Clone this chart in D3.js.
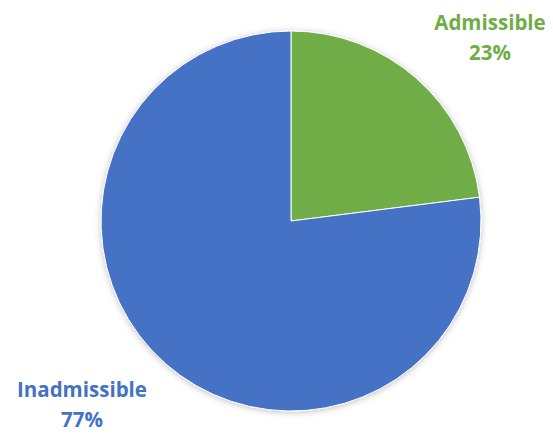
<!DOCTYPE html>
<html>
<head>
<meta charset="utf-8">
<script src="https://cdn.jsdelivr.net/npm/d3@7"></script>
<style>
  body { margin: 0; background: #fff; }
  svg { display: block; }
</style>
</head>
<body>
<svg id="chart" width="553" height="434"></svg>
<script>
const categories = ['Admissible', 'Inadmissible'];
const values = [23, 77];
const colors = ['#70AD47', '#4472C4'];

const width = 553, height = 434;
const cx = 291, cy = 221, radius = 190;

const svg = d3.select('#chart');

const pie = d3.pie().sort(null).value(d => d.value);
const arcs = pie(categories.map((c, i) => ({ name: c, value: values[i], color: colors[i] })));

const arc = d3.arc().innerRadius(0).outerRadius(radius);

const defs = svg.append('defs');
const filter = defs.append('filter').attr('id', 'shadow')
  .attr('x', '-10%').attr('y', '-10%').attr('width', '120%').attr('height', '120%');
filter.append('feDropShadow')
  .attr('dx', 0).attr('dy', 1).attr('stdDeviation', 3)
  .attr('flood-color', '#000').attr('flood-opacity', 0.25);

const g = svg.append('g').attr('transform', `translate(${cx},${cy})`);

g.append('g').attr('filter', 'url(#shadow)')
  .selectAll('path')
  .data(arcs)
  .enter()
  .append('path')
  .attr('d', arc)
  .attr('fill', d => d.data.color)
  .attr('stroke', '#fff')
  .attr('stroke-width', 1);

// labels outside the pie
const labelPos = [
  { x: 490, y: 30 },
  { x: 82, y: 397 }
];

const labels = svg.append('g')
  .selectAll('text')
  .data(arcs)
  .enter()
  .append('text')
  .attr('x', (d, i) => labelPos[i].x)
  .attr('y', (d, i) => labelPos[i].y)
  .attr('text-anchor', 'middle')
  .attr('fill', d => d.data.color)
  .style('font-family', '"Open Sans", sans-serif')
  .style('font-weight', 'bold')
  .style('font-size', '20.5px');

labels.append('tspan')
  .text(d => d.data.name);
labels.append('tspan')
  .attr('x', (d, i) => labelPos[i].x)
  .attr('dy', 30)
  .text(d => Math.round(d.data.value) + '%');
</script>
</body>
</html>
